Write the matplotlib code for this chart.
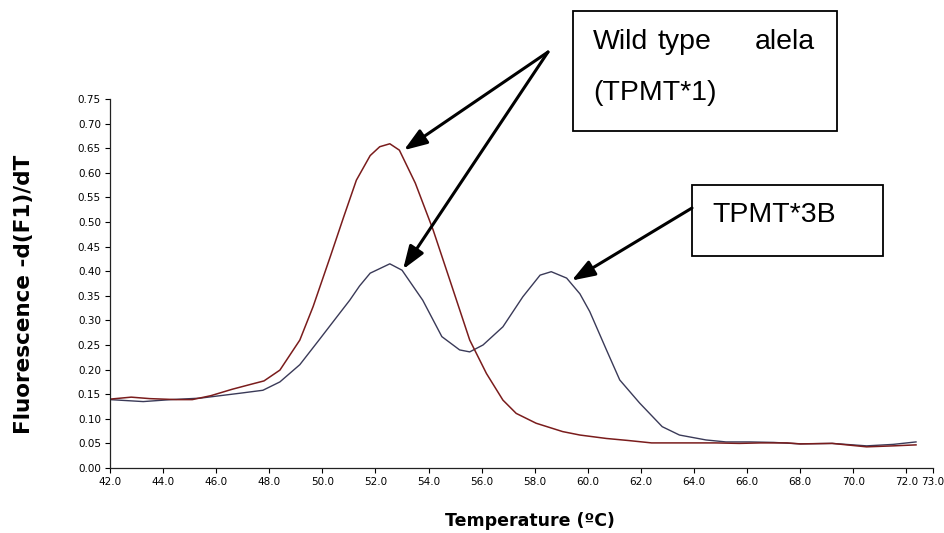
import matplotlib
matplotlib.use("Agg")
import matplotlib.pyplot as plt
from matplotlib.patches import Rectangle

# melt curve readings, temperature (C) vs -d(F1)/dT
wt_temp = [42.0, 42.8, 43.5, 44.5, 45.1, 45.8, 46.6, 47.3, 47.8, 48.4, 49.15,
           49.65, 50.3, 50.8, 51.28, 51.8, 52.16, 52.54, 52.9, 53.5, 54.17,
           54.8, 55.55, 56.18, 56.8, 57.3, 58.05, 59.05, 59.7, 60.7, 61.5,
           62.4, 63.5, 64.8, 65.7, 66.5, 67.5, 68.0, 69.2, 70.5, 71.5, 72.36]
wt_fluo = [0.140, 0.144, 0.141, 0.139, 0.139, 0.147, 0.160, 0.170, 0.177, 0.199,
           0.260, 0.328, 0.430, 0.510, 0.585, 0.635, 0.653, 0.659, 0.646, 0.579,
           0.484, 0.382, 0.260, 0.192, 0.138, 0.111, 0.091, 0.074, 0.067, 0.060,
           0.056, 0.051, 0.051, 0.051, 0.050, 0.051, 0.051, 0.049, 0.050, 0.043,
           0.045, 0.047]

het_temp = [42.0, 43.25, 44.3, 45.4, 46.9, 47.76, 48.4, 49.15, 49.9, 50.3, 50.7,
            51.03, 51.4, 51.8, 52.54, 53.0, 53.78, 54.5, 55.17, 55.55, 56.05,
            56.8, 57.55, 58.2, 58.62, 59.2, 59.7, 60.07, 60.7, 61.2, 61.95,
            62.8, 63.45, 64.45, 65.2, 66.1, 67.0, 68.0, 69.2, 70.5, 71.5, 72.36]
het_fluo = [0.139, 0.135, 0.139, 0.142, 0.152, 0.158, 0.175, 0.210, 0.262, 0.290,
            0.318, 0.341, 0.370, 0.396, 0.415, 0.402, 0.341, 0.267, 0.240, 0.236,
            0.250, 0.287, 0.348, 0.392, 0.399, 0.386, 0.354, 0.318, 0.240, 0.179,
            0.132, 0.084, 0.067, 0.057, 0.053, 0.053, 0.052, 0.049, 0.050, 0.045,
            0.048, 0.053]

xticks = [42, 44, 46, 48, 50, 52, 54, 56, 58, 60, 62, 64, 66, 68, 70, 72, 73]
yticks = [0.0, 0.05, 0.10, 0.15, 0.20, 0.25, 0.30, 0.35, 0.40, 0.45, 0.50,
          0.55, 0.60, 0.65, 0.70, 0.75]

fig = plt.figure(figsize=(9.44, 5.33), dpi=100)
ax = fig.add_axes([110 / 944, 65 / 533, 823 / 944, 369 / 533])

ax.plot(het_temp, het_fluo, color="#3a3a58", lw=1.0)
ax.plot(wt_temp, wt_fluo, color="#7a1c1c", lw=1.1)

ax.set_xlim(42, 73)
ax.set_ylim(0, 0.75)
ax.set_xticks(xticks)
ax.set_xticklabels(["%.1f" % t for t in xticks])
ax.set_yticks(yticks)
ax.set_yticklabels(["%.2f" % v for v in yticks])
ax.tick_params(labelsize=7.5, length=3.5, width=0.8, pad=3, direction="out")
ax.spines["top"].set_visible(False)
ax.spines["right"].set_visible(False)
for s in ("left", "bottom"):
    ax.spines[s].set_linewidth(0.9)
    ax.spines[s].set_color("#222222")

fig.text(24 / 944, 1 - 294 / 533, "Fluorescence -d(F1)/dT", rotation=90,
         ha="center", va="center", fontsize=15.5, fontweight="bold")
fig.text(530 / 944, 1 - 521 / 533, "Temperature (\u00baC)",
         ha="center", va="center", fontsize=12.5, fontweight="bold")

# annotation boxes
fig.add_artist(Rectangle((573 / 944, 402 / 533), 264 / 944, 120 / 533,
                         transform=fig.transFigure, fill=False, ec="black", lw=1.3))
fig.add_artist(Rectangle((692 / 944, 277 / 533), 191 / 944, 71 / 533,
                         transform=fig.transFigure, fill=False, ec="black", lw=1.3))

box_font = dict(fontsize=20.5, family="Liberation Sans", va="baseline")
fig.text(593 / 944, 484 / 533, "Wild", ha="left", **box_font)
fig.text(658 / 944, 484 / 533, "type", ha="left", **box_font)
fig.text(815 / 944, 484 / 533, "alela", ha="right", **box_font)
fig.text(593 / 944, 433 / 533, "(TPMT*1)", ha="left", **box_font)
fig.text(712 / 944, 311 / 533, "TPMT*3B", ha="left", **box_font)

arrow = dict(arrowstyle="-|>,head_length=0.7,head_width=0.25", color="black",
             lw=2.2, mutation_scale=20, shrinkA=0, shrinkB=0)
ax.annotate("", xy=(53.07, 0.646), xycoords="data",
            xytext=(548, 481), textcoords="figure pixels", arrowprops=arrow)
ax.annotate("", xy=(53.04, 0.404), xycoords="data",
            xytext=(548, 481), textcoords="figure pixels", arrowprops=arrow)
ax.annotate("", xy=(59.39, 0.381), xycoords="data",
            xytext=(692, 325), textcoords="figure pixels", arrowprops=arrow)

fig.savefig("out.png", dpi=100)
